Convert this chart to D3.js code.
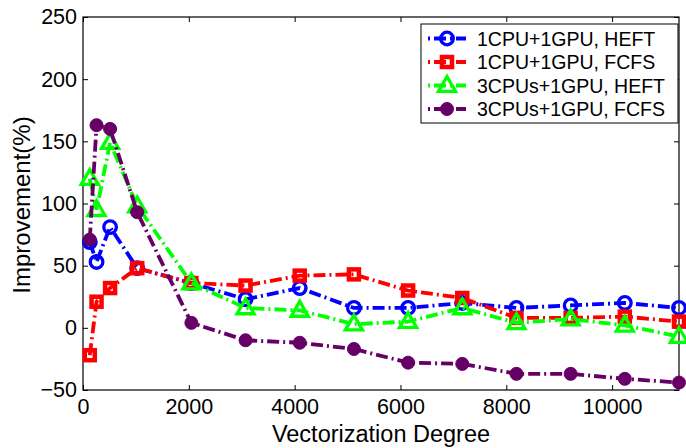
<!DOCTYPE html>
<html><head><meta charset="utf-8">
<script src="https://cdn.jsdelivr.net/npm/d3@7"></script>
<style>body{margin:0;background:#fff}svg{display:block}text{font-family:"Liberation Sans",Arial,sans-serif;fill:#000}</style>
</head><body>
<svg id="c" width="686" height="448"></svg>
<script>
const degrees = [128,256,512,1024,2048,3072,4096,5120,6144,7168,8192,9216,10240,11264];
const heft1 = [69,53,81,48,36,23,32,16,16,20,16,18,20,16];
const fcfs1 = [-22,21,32,48,36,34,42,43,30,24,8,8,9,5];
const heft3 = [120,95,149,98,36,16,14,3,5,16,4,7,2,-7];
const fcfs3 = [71,163,160,93,4,-10,-12,-17,-28,-29,-37,-37,-41,-44];
const seriesNames = ["1CPU+1GPU, HEFT","1CPU+1GPU, FCFS","3CPUs+1GPU, HEFT","3CPUs+1GPU, FCFS"];
const xTicks = [0,2000,4000,6000,8000,10000];
const yTicks = [-50,0,50,100,150,200,250];

const series = [
  {name:seriesNames[0], values:heft1, color:"#0000ff", marker:"circle"},
  {name:seriesNames[1], values:fcfs1, color:"#ff0000", marker:"square"},
  {name:seriesNames[2], values:heft3, color:"#00ff00", marker:"triangle"},
  {name:seriesNames[3], values:fcfs3, color:"#660066", marker:"dot"}
];

const svg = d3.select("#c");
const L=83,R=679,T=17,B=390;
const x = d3.scaleLinear().domain([0,11264]).range([L,R]);
const y = d3.scaleLinear().domain([-50,250]).range([B,T]);

const gx = svg.append("g").attr("transform",`translate(0,${B})`)
  .call(d3.axisBottom(x).tickValues(xTicks).tickSizeInner(-5).tickSizeOuter(0).tickPadding(9).tickFormat(d3.format("d")));
const gy = svg.append("g").attr("transform",`translate(${L},0)`)
  .call(d3.axisLeft(y).tickValues(yTicks).tickSizeInner(-5).tickSizeOuter(0).tickPadding(6).tickFormat(d=>d<0?"\u2212"+(-d):d));
const gt = svg.append("g").attr("transform",`translate(0,${T})`)
  .call(d3.axisTop(x).tickValues(xTicks).tickSizeInner(-5).tickSizeOuter(0).tickFormat(""));
const gr = svg.append("g").attr("transform",`translate(${R},0)`)
  .call(d3.axisRight(y).tickValues(yTicks).tickSizeInner(-5).tickSizeOuter(0).tickFormat(""));
[gx,gy,gt,gr].forEach(g=>{
  g.select(".domain").remove();
  g.selectAll("line").attr("stroke","#000").attr("stroke-width",1);
  g.selectAll("text").attr("font-size",21.5).attr("font-family",'"Liberation Sans",Arial,sans-serif').attr("fill","#000");
});
svg.append("rect").attr("x",L).attr("y",T).attr("width",R-L).attr("height",B-T)
  .attr("fill","none").attr("stroke","#000").attr("stroke-width",1.2);

svg.append("text").attr("x",(L+R)/2).attr("y",442).attr("text-anchor","middle").attr("font-size",23.5).text("Vectorization Degree");
svg.append("text").attr("transform","translate(30,205) rotate(-90)").attr("text-anchor","middle").attr("font-size",24).text("Improvement(%)");

function drawMarker(g, type, color){
  if(type==="circle"){
    g.append("circle").attr("r",6.3).attr("fill","none").attr("stroke",color).attr("stroke-width",3.3);
  } else if(type==="square"){
    g.append("rect").attr("x",-5).attr("y",-5).attr("width",10).attr("height",10).attr("fill","none").attr("stroke",color).attr("stroke-width",4.5);
  } else if(type==="triangle"){
    g.append("path").attr("d","M0,-9L8.5,5.8L-8.5,5.8Z").attr("fill","none").attr("stroke",color).attr("stroke-width",3.3).attr("stroke-linejoin","miter");
  } else {
    g.append("circle").attr("r",6.5).attr("fill",color).attr("stroke",color).attr("stroke-width",1);
  }
}

const line = d3.line().x((d,i)=>x(degrees[i])).y(d=>y(d));
series.forEach(s=>{
  svg.append("path").datum(s.values).attr("d",line).attr("fill","none")
    .attr("stroke",s.color).attr("stroke-width",3.8).attr("stroke-dasharray","12,4,2,4");
  s.values.forEach((v,i)=>{
    const g = svg.append("g").attr("transform",`translate(${x(degrees[i])},${y(v)})`);
    drawMarker(g,s.marker,s.color);
  });
});

const lg = svg.append("g");
lg.append("rect").attr("x",421).attr("y",24).attr("width",257).attr("height",99)
  .attr("fill","#fff").attr("stroke","#000").attr("stroke-width",1);
series.forEach((s,i)=>{
  const yy = 38.5 + i*23.5;
  lg.append("line").attr("x1",428).attr("x2",466).attr("y1",yy).attr("y2",yy)
    .attr("stroke",s.color).attr("stroke-width",3.8).attr("stroke-dasharray","12,4,2,4").attr("stroke-dashoffset",-6);
  drawMarker(lg.append("g").attr("transform",`translate(447,${yy})`), s.marker, s.color);
  lg.append("text").attr("x",477).attr("y",yy+7).attr("font-size",19.5).text(s.name);
});
</script>
</body></html>
